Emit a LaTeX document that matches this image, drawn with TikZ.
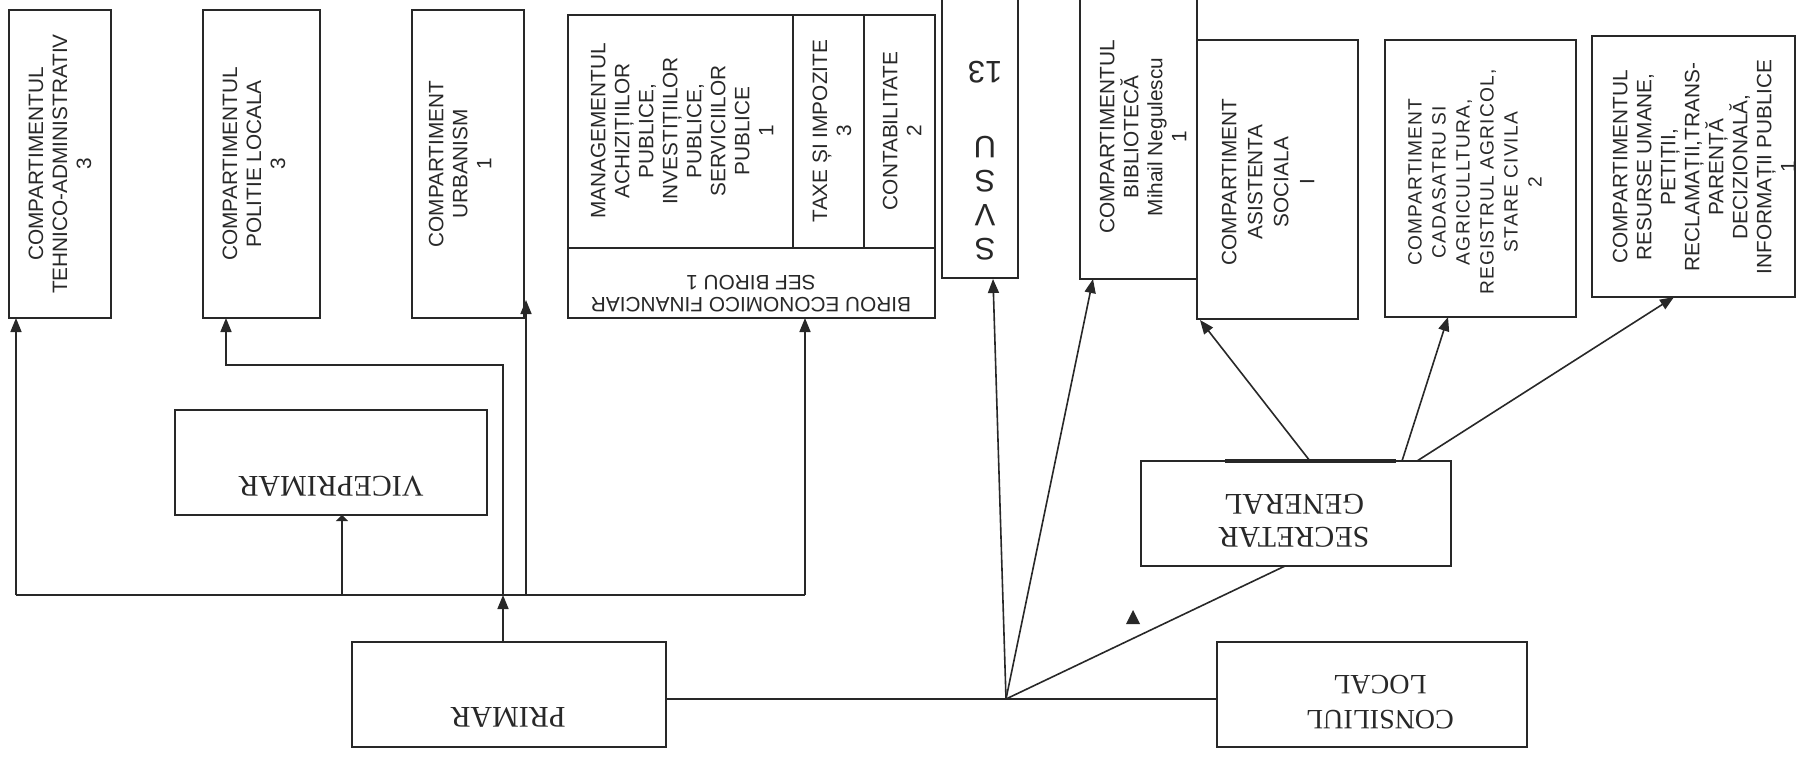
\documentclass[tikz,border=0pt]{standalone}
\usepackage{fontspec}
\setmainfont{Liberation Sans}
\newfontfamily\tnr{Liberation Serif}
\newfontfamily\cadf[LetterSpace=6]{Liberation Sans}
\usetikzlibrary{arrows.meta,fit}
\definecolor{ink}{RGB}{40,40,40}
\begin{document}
\begin{tikzpicture}[x=0.5pt,y=-0.5pt,
 box/.style={draw=ink,line width=0.8pt,inner sep=0pt,outer sep=0pt},
 ln/.style={draw=ink,line width=0.8pt},
 arr/.style={ln,-{Triangle[length=7pt,width=5.5pt]}},
 arrs/.style={ln,-{Triangle[length=3pt,width=6pt]}},
 vt/.style={rotate=90,align=center,inner sep=0pt,text=ink,font=\fontsize{10.4}{12}\selectfont},
 ut/.style={rotate=180,align=center,inner sep=0pt,text=ink,font=\fontsize{10.4}{11}\selectfont},
 st/.style={rotate=180,align=center,inner sep=0pt,text=ink,font=\tnr\fontsize{15}{16.5}\selectfont}]
\useasboundingbox (0,0) rectangle (1806,757);
\fill[white] (0,0) rectangle (1806,757);
\clip (0,0) rectangle (1806,757);

% top boxes
\node[box,fit={(9,10)(111,318)}] (teh) {};
\node[box,fit={(203,10)(320,318)}] (pol) {};
\node[box,fit={(412,10)(524,318)}] (urb) {};
\node[box,fit={(568,15)(935,318)}] (birou) {};
\node[box,fit={(942,-10)(1018,278)}] (svsu) {};
\node[box,fit={(1080,-10)(1197,279)}] (bibl) {};
\node[box,fit={(1197,40)(1358,319)}] (asist) {};
\node[box,fit={(1385,40)(1576,317)}] (cadas) {};
\node[box,fit={(1592,36)(1795,297)}] (res) {};

% birou internal divisions
\coordinate (bl) at (568,248);
\coordinate (d1) at (793,15);
\coordinate (d2) at (864,15);
\draw[ln] (bl) -- (bl -| birou.east);
\draw[ln] (d1) -- (d1 |- bl);
\draw[ln] (d2) -- (d2 |- bl);

% lower boxes
\node[box,fit={(175,410)(487,515)}] (vice) {};
\node[box,fit={(352,642)(666,747)}] (primar) {};
\node[box,fit={(1141,461)(1451,566)}] (sec) {};
\node[box,fit={(1217,642)(1527,747)}] (cons) {};

% texts
\node[vt] (tTeh) at (60,164) {COMPARTIMENTUL\\TEHNICO-ADMINISTRATIV\\3};
\node[vt] (tPol) at (254,164) {COMPARTIMENTUL\\POLITIE LOCALA\\3};
\node[vt] (tUrb) at (460,164) {COMPARTIMENT\\URBANISM\\1};
\node[vt] (tMan) at (682,131) {MANAGEMENTUL\\ACHIZIȚIILOR\\PUBLICE,\\INVESTIȚIILOR\\PUBLICE,\\SERVICIILOR\\PUBLICE\\1};
\node[vt] (tTax) at (832,131) {TAXE ȘI IMPOZITE\\3};
\node[vt] (tCon) at (902,131) {CONTABILITATE\\2};
\node[ut] (tBir) at (751,294) {BIROU ECONOMICO FINANCIAR\\SEF BIROU 1};
\node[rotate=180,align=center,inner sep=0pt,text=ink,font=\fontsize{15.5}{17}\selectfont] (tSvsu) at (985,161) {S\\V\\S\\U\\[20.5pt]13};
\node[vt] (tBib) at (1143,137) {COMPARTIMENTUL\\BIBLIOTECĂ\\Mihail Negulescu\\1};
\node[vt,font=\fontsize{10.4}{13}\selectfont] (tAsi) at (1268,182) {COMPARTIMENT\\ASISTENTA\\SOCIALA\\I};
\node[vt,font=\cadf\fontsize{9.6}{12}\selectfont] (tCad) at (1475,182) {COMPARTIMENT\\CADASATRU SI\\AGRICULLTURA,\\REGISTRUL AGRICOL,\\STARE CIVILA\\2};
\node[vt] (tRes) at (1704,167) {COMPARTIMENTUL\\RESURSE UMANE,\\PETIȚII,\\RECLAMAȚII,TRANS-\\PARENȚĂ\\DECIZIONALĂ,\\INFORMAȚII PUBLICE\\1};

\node[st] (tVice) at (331,486) {VICEPRIMAR};
\node[st] (tPrim) at (508,717) {PRIMAR};
\node[st] (tSec) at (1294,521) {SECRETAR\\GENERAL};
\node[st,font=\tnr\fontsize{14}{17.5}\selectfont] (tCons) at (1380,702) {CONSILIUL\\LOCAL};

% left connector system
\coordinate (hL) at (16,595);
\coordinate (hR) at (805,595);
\coordinate (vA) at (342,595);
\coordinate (pX) at (503,595);
\coordinate (pT) at (503,365);
\coordinate (polA) at (226,365);
\coordinate (uX) at (526,595);
\coordinate (uT) at (526,300);
\draw[ln] (hL) -- (hR);
\draw[arr] (hL) -- (hL |- teh.south);
\draw[arrs] (vA) -- (vA |- vice.south);
\draw[arr] (pX |- primar.north) -- (pX);
\draw[arr] (pX) -- (pT) -- (polA) -- (polA |- pol.south);
\draw[arr] (uX) -- (uT);
\draw[arr] (hR) -- (hR |- birou.south);

% right connector system
\coordinate (J) at (1006,699);
\coordinate (svA) at (993,279);
\coordinate (biA) at (1093,279);
\coordinate (sB) at (1285,566);
\draw[ln] (primar.east |- J) -- (cons.west |- J);
\draw[arr] (J) -- (svA);
\draw[arr] (J) -- (biA);
\draw[ln] (J) -- (sB);
\fill[ink] (1126,624) -- (1140,624) -- (1133,610) -- cycle;

\coordinate (s1) at (1310,461);
\coordinate (s2) at (1402,461);
\coordinate (s3) at (1417,461);
\coordinate (asA) at (1200,320);
\coordinate (caA) at (1448,317);
\coordinate (reA) at (1674,297);
\draw[ink,line width=1.8pt] (1225,461) -- (1396,461);
\draw[arr] (s1) -- (asA);
\draw[arr] (s2) -- (caA);
\draw[arr] (s3) -- (reA);
\end{tikzpicture}
\end{document}
